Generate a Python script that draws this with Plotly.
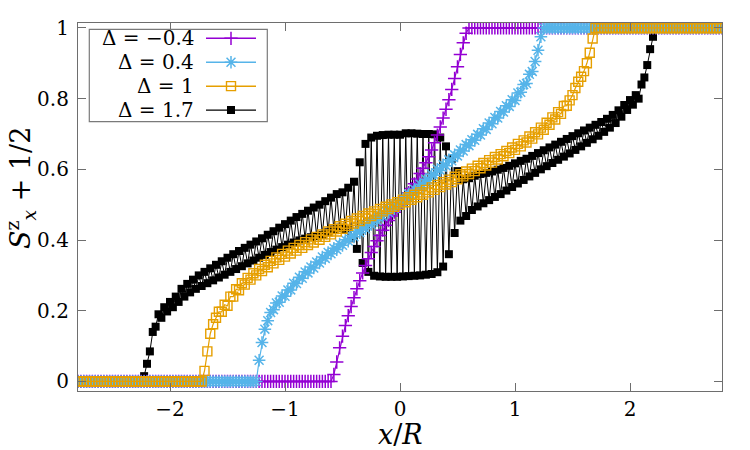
import plotly.graph_objects as go

# ---- lattice positions x/R (225 sites, spacing 0.025) ----
N_SITES = 225
x = [round(-2.8 + 0.025 * i, 3) for i in range(N_SITES)]

labels = ["Δ = −0.4", "Δ = 0.4", "Δ = 1", "Δ = 1.7"]
colors = ["#9400d3", "#56b4e9", "#e69f00", "#000000"]

# ---- S^z_x + 1/2 ----
y_m04 = [0.0] * 89 + [
    0.02, 0.055, 0.095, 0.128, 0.158, 0.186, 0.212, 0.237, 0.262, 0.285,
    0.307, 0.328, 0.347, 0.365, 0.382, 0.398, 0.413, 0.428, 0.442, 0.455,
    0.468, 0.479, 0.49, 0.5, 0.511, 0.522, 0.534, 0.546, 0.559, 0.573,
    0.588, 0.603, 0.619, 0.636, 0.655, 0.675, 0.697, 0.72, 0.745, 0.77,
    0.797, 0.826, 0.857, 0.89, 0.925, 0.958, 0.985,
] + [1.0] * 89

y_04 = [0.0] * 63 + [
    0.06, 0.11, 0.148, 0.172, 0.195, 0.203, 0.222, 0.224, 0.242, 0.241,
    0.259, 0.259, 0.278, 0.277, 0.295, 0.292, 0.310, 0.307, 0.324, 0.321,
    0.338, 0.335, 0.352, 0.348, 0.365, 0.361, 0.377, 0.373, 0.389, 0.385,
    0.401, 0.397, 0.413, 0.409, 0.425, 0.421, 0.436, 0.432, 0.448, 0.444,
    0.459, 0.455, 0.471, 0.467, 0.483, 0.478, 0.494, 0.489, 0.505, 0.500,
    0.517, 0.513, 0.530, 0.527, 0.544, 0.541, 0.558, 0.555, 0.572, 0.569,
    0.586, 0.583, 0.600, 0.597, 0.613, 0.610, 0.627, 0.624, 0.641, 0.638,
    0.655, 0.652, 0.670, 0.667, 0.684, 0.682, 0.699, 0.697, 0.715, 0.713,
    0.731, 0.729, 0.747, 0.745, 0.764, 0.762, 0.780, 0.778, 0.797, 0.795,
    0.816, 0.818, 0.840, 0.843, 0.869, 0.877, 0.905, 0.937, 0.975,
] + [1.0] * 63

y_1 = [0.0] * 44 + [
    0.03, 0.085, 0.135, 0.162, 0.18, 0.197, 0.197, 0.217, 0.214, 0.240,
    0.240, 0.261, 0.258, 0.278, 0.274, 0.293, 0.288, 0.306, 0.300, 0.318,
    0.312, 0.330, 0.323, 0.341, 0.334, 0.351, 0.344, 0.361, 0.353, 0.370,
    0.362, 0.378, 0.370, 0.386, 0.378, 0.394, 0.386, 0.402, 0.393, 0.409,
    0.401, 0.416, 0.409, 0.424, 0.416, 0.431, 0.424, 0.439, 0.432, 0.446,
    0.440, 0.454, 0.447, 0.461, 0.454, 0.468, 0.461, 0.475, 0.468, 0.481,
    0.474, 0.488, 0.481, 0.494, 0.488, 0.501, 0.494, 0.507, 0.500, 0.514,
    0.507, 0.521, 0.514, 0.528, 0.521, 0.535, 0.528, 0.542, 0.535, 0.549,
    0.542, 0.556, 0.550, 0.564, 0.557, 0.571, 0.564, 0.579, 0.572, 0.586,
    0.580, 0.594, 0.587, 0.602, 0.595, 0.610, 0.603, 0.618, 0.611, 0.626,
    0.619, 0.635, 0.628, 0.643, 0.637, 0.652, 0.646, 0.662, 0.655, 0.672,
    0.665, 0.682, 0.676, 0.693, 0.687, 0.705, 0.699, 0.718, 0.712, 0.732,
    0.726, 0.747, 0.741, 0.762, 0.757, 0.779, 0.780, 0.795, 0.810, 0.830,
    0.848, 0.862, 0.878, 0.900, 0.930, 0.970,
] + [1.0] * 45

y_17 = [0.0] * 23 + [
    0.015, 0.05, 0.085, 0.14, 0.155, 0.19, 0.18, 0.21, 0.198, 0.225,
    0.21, 0.24, 0.225, 0.262, 0.24, 0.276, 0.252, 0.288, 0.262, 0.30,
    0.27, 0.31, 0.278, 0.32, 0.286, 0.33, 0.294, 0.34, 0.302, 0.35,
    0.31, 0.36, 0.318, 0.369, 0.326, 0.378, 0.334, 0.387, 0.342, 0.396,
    0.35, 0.405, 0.358, 0.415, 0.366, 0.425, 0.373, 0.435, 0.38, 0.445,
    0.387, 0.455, 0.393, 0.465, 0.399, 0.474, 0.404, 0.483, 0.408, 0.492,
    0.411, 0.50, 0.415, 0.51, 0.422, 0.52, 0.43, 0.53, 0.435, 0.535,
    0.43, 0.548, 0.405, 0.565, 0.375, 0.62, 0.335, 0.672, 0.31, 0.69,
    0.299, 0.695, 0.297, 0.697, 0.296, 0.698, 0.296, 0.698, 0.296,
    0.698,
    0.297, 0.702, 0.298, 0.702, 0.299, 0.701, 0.300, 0.700, 0.302, 0.700,
    0.304, 0.699, 0.309, 0.690, 0.325, 0.665, 0.36, 0.63, 0.42, 0.595,
    0.455, 0.572, 0.468, 0.575, 0.485, 0.582, 0.495, 0.587, 0.504, 0.59,
    0.513, 0.594, 0.522, 0.599, 0.53, 0.604, 0.54, 0.61, 0.55, 0.617,
    0.56, 0.624, 0.57, 0.63, 0.58, 0.638, 0.59, 0.646, 0.60, 0.654,
    0.609, 0.662, 0.618, 0.67, 0.627, 0.678, 0.636, 0.686, 0.645, 0.694,
    0.655, 0.702, 0.665, 0.71, 0.675, 0.718, 0.685, 0.726, 0.695, 0.734,
    0.706, 0.743, 0.718, 0.754, 0.731, 0.767, 0.749, 0.782, 0.768, 0.796,
    0.783, 0.81, 0.80, 0.84, 0.86, 0.895, 0.94, 0.975, 1.0,
] + [1.0] * 23

series = [y_m04, y_04, y_1, y_17]

x_ticks = [-2, -1, 0, 1, 2]
x_tick_text = ["−2", "−1", "0", "1", "2"]
y_ticks = [0, 0.2, 0.4, 0.6, 0.8, 1]
y_tick_text = ["0", "0.2", "0.4", "0.6", "0.8", "1"]

markers = [
    dict(symbol="cross-thin", size=9.5, line=dict(width=1.5, color=colors[0]), color=colors[0]),
    dict(symbol="asterisk", size=10.5, line=dict(width=1.5, color=colors[1]), color=colors[1]),
    dict(symbol="square-open", size=9, line=dict(width=1.4, color=colors[2]), color=colors[2]),
    dict(symbol="square", size=8, line=dict(width=0, color=colors[3]), color=colors[3]),
]
line_w = [1.2, 1.2, 1.2, 1.0]

FONT = "DejaVu Serif"
fig = go.Figure()

# draw order: black underneath, then violet, blue, orange
for k in [3, 0, 1, 2]:
    fig.add_trace(go.Scatter(
        x=x, y=series[k], mode="lines+markers",
        line=dict(color=colors[k], width=line_w[k]),
        marker=markers[k], showlegend=False, cliponaxis=True,
    ))

# hand-built key (text left, sample right) on its own hidden axes
rows = [1, 2, 3, 4]
for k in range(4):
    fig.add_trace(go.Scatter(
        x=[0, 1], y=[rows[k], rows[k]], mode="lines", xaxis="x2", yaxis="y2",
        line=dict(color=colors[k], width=line_w[k] + 0.3), showlegend=False, hoverinfo="skip",
    ))
    fig.add_trace(go.Scatter(
        x=[0.5], y=[rows[k]], mode="markers", xaxis="x2", yaxis="y2",
        marker=markers[k], showlegend=False, hoverinfo="skip",
    ))

W, H = 750, 450
L, R, T, B = 78, 28, 23, 59
pw, ph = W - L - R, H - T - B

def px_to_paper_x(px):
    return (px - L) / pw

def py_to_paper_y(py):
    return (H - B - py) / ph

row_py = [38.3, 62.2, 86.1, 110.0]
for k in range(4):
    fig.add_annotation(
        x=px_to_paper_x(196), y=py_to_paper_y(row_py[k]), xref="paper", yref="paper",
        text=labels[k], showarrow=False, xanchor="right", yanchor="middle",
        font=dict(family=FONT, size=20, color="black"),
    )

# axis titles
fig.add_annotation(
    x=0.5, y=py_to_paper_y(434), xref="paper", yref="paper",
    text="<i>x</i>/<i>R</i>", showarrow=False, xanchor="center", yanchor="middle",
    font=dict(family=FONT, size=27, color="black"),
)
fig.add_annotation(
    x=px_to_paper_x(20), y=py_to_paper_y(188), xref="paper", yref="paper",
    text="<i>S</i><sup>z</sup><sub><i>x</i></sub> + 1/2", textangle=-90,
    showarrow=False, xanchor="center", yanchor="middle",
    font=dict(family=FONT, size=27, color="black"),
)

fig.add_shape(type="rect", xref="paper", yref="paper",
              x0=px_to_paper_x(89.3), x1=px_to_paper_x(267.3),
              y0=py_to_paper_y(121.7), y1=py_to_paper_y(29.3),
              line=dict(color="#7a7a7a", width=1.2), fillcolor="rgba(0,0,0,0)")

axis_common = dict(
    showline=True, linecolor="#6e6e6e", linewidth=1.2, mirror="allticks",
    ticks="inside", ticklen=8, tickcolor="#6e6e6e", tickwidth=1,
    showgrid=False, zeroline=False, automargin=False,
    tickfont=dict(family=FONT, size=20, color="black"),
)

fig.update_layout(
    width=W, height=H,
    margin=dict(l=L, r=R, t=T, b=B, autoexpand=False),
    paper_bgcolor="white", plot_bgcolor="white",
    font=dict(family=FONT, color="black"),
    xaxis=dict(range=[-2.8, 2.8], tickvals=x_ticks, ticktext=x_tick_text,
               ticklabelstandoff=0, **axis_common),
    yaxis=dict(range=[-0.027, 1.014], tickvals=y_ticks, ticktext=y_tick_text,
               ticklabelstandoff=4, **axis_common),
    xaxis2=dict(domain=[px_to_paper_x(206), px_to_paper_x(256)], range=[0, 1], anchor="y2",
                visible=False, fixedrange=True),
    yaxis2=dict(domain=[py_to_paper_y(122.0), py_to_paper_y(26.4)], range=[4.5, 0.5], anchor="x2",
                visible=False, fixedrange=True),
)

fig.write_html("out.html")
